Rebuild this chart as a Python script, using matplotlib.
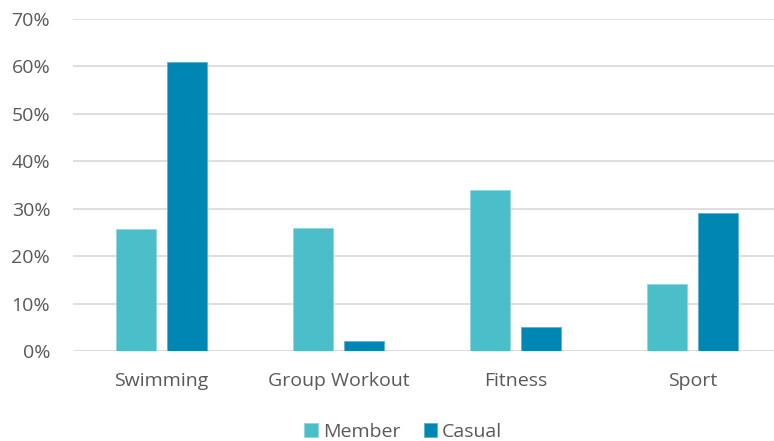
import matplotlib.pyplot as plt
import numpy as np
from matplotlib.ticker import MultipleLocator, PercentFormatter

# dữ liệu
categories = ['Swimming', 'Group Workout', 'Fitness', 'Sport']
member = [25.7, 26.0, 34.0, 14.1]
casual = [61.0, 2.1, 5.0, 29.1]

plt.rcParams['font.family'] = ['Open Sans', 'DejaVu Sans']
grey = '#595959'

fig = plt.figure(figsize=(7.74, 4.41), dpi=100)
ax = fig.add_axes([0.0945, 0.204, 0.915, 0.753])

x = np.arange(len(categories))
w = 0.226
ax.bar(x - 0.144, member, width=w, color='#4BBFC9', edgecolor='#8fd6dc', linewidth=0.6, label='Member', zorder=3)
ax.bar(x + 0.144, casual, width=w, color='#0086B3', edgecolor='#5fb0cf', linewidth=0.6, label='Casual', zorder=3)

ax.set_xlim(-0.5, 3.5)
ax.set_ylim(0, 70)
ax.yaxis.set_major_locator(MultipleLocator(10))
ax.yaxis.set_major_formatter(PercentFormatter(decimals=0))
ax.grid(axis='y', color='#d9d9d9', linewidth=1.2, zorder=0)
for s in ax.spines.values():
    s.set_visible(False)
ax.tick_params(axis='both', length=0, colors=grey)
ax.tick_params(axis='y', labelsize=14, pad=16.5)
ax.tick_params(axis='x', labelsize=14, pad=15)
ax.set_xticks(x)
ax.set_xticklabels(categories)

# chú thích nằm giữa, dưới trục x
ax.legend(loc='center', bbox_to_anchor=(0.466, -0.244), ncol=2, frameon=False,
          fontsize=14, labelcolor=grey, handlelength=0.7, handleheight=0.7,
          handletextpad=0.25, columnspacing=1.2, borderpad=0)

plt.savefig('out.png', dpi=100)
